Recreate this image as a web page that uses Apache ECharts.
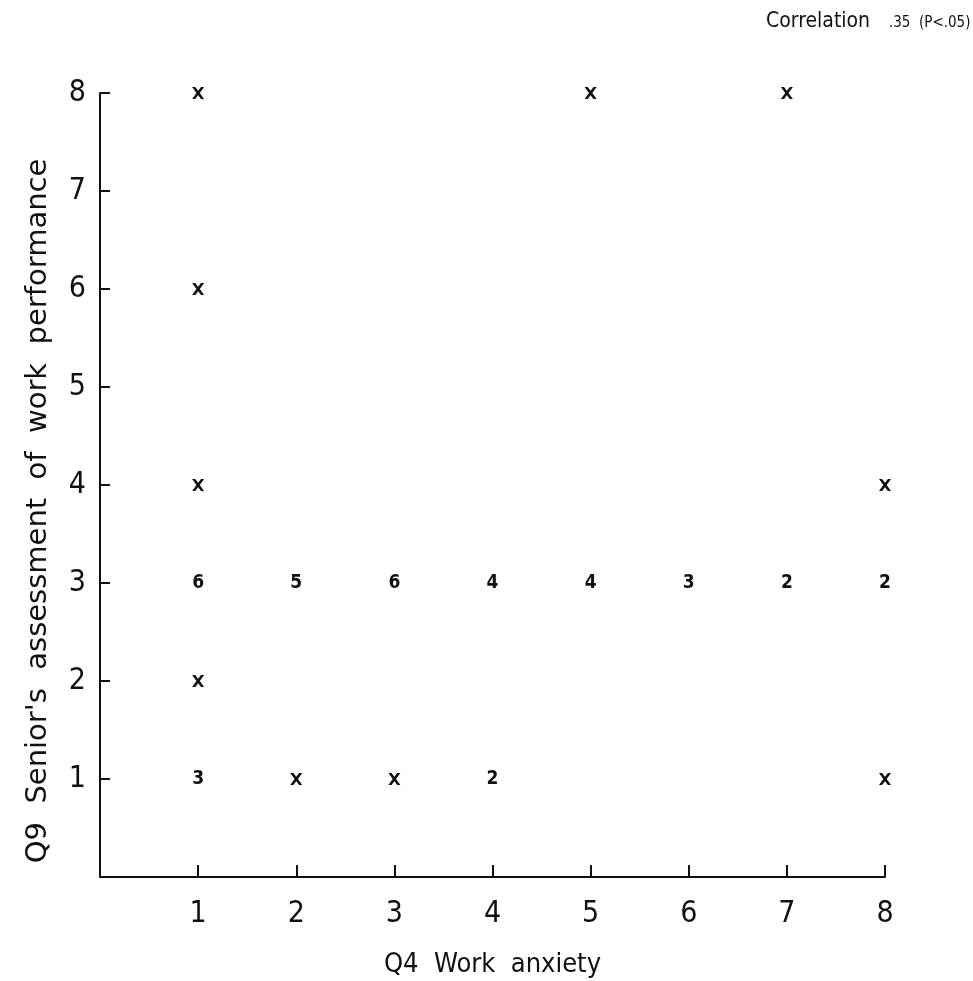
<!DOCTYPE html>
<html>
<head>
<meta charset="utf-8">
<script src="https://cdn.jsdelivr.net/npm/echarts@6/dist/echarts.min.js"></script>
<style>
  html, body { margin: 0; padding: 0; background: #fff; }
  #chart { width: 973px; height: 981px; }
</style>
</head>
<body>
<div id="chart"></div>
<script>
// single cases, drawn as crosses
var singleX = [1, 5, 7, 1, 1, 8, 1, 2, 3, 8];
var singleY = [8, 8, 8, 6, 4, 4, 2, 1, 1, 1];
// several cases at one point, drawn as their count
var countX = [1, 2, 3, 4, 5, 6, 7, 8, 1, 4];
var countY = [3, 3, 3, 3, 3, 3, 3, 3, 1, 1];
var countN = [6, 5, 6, 4, 4, 3, 2, 2, 3, 2];
var tickLabels = ['', '1', '2', '3', '4', '5', '6', '7', '8'];

var FONT = '"DejaVu Sans Condensed", "DejaVu Sans", sans-serif';
var INK = '#111';

var crossPath = 'path://M0,0 L2.6,0 L5,3.2 L7.4,0 L10,0 L6.4,5 L10,10 L7.4,10 L5,6.8 L2.6,10 L0,10 L3.6,5 Z';

var chart = echarts.init(document.getElementById('chart'));

var option = {
  backgroundColor: '#fff',
  animation: false,
  title: [
    {
      text: 'Correlation',
      left: 761, top: 6,
      textStyle: { fontFamily: FONT, fontSize: 21, fontWeight: 'normal', color: INK }
    },
    {
      text: '.35  (P<.05)',
      left: 884, top: 11,
      textStyle: { fontFamily: FONT, fontSize: 15, fontWeight: 'normal', color: INK }
    }
  ],
  // y axis title sits a little below the plot centre in the original
  graphic: [{
    type: 'text',
    x: 38, y: 511,
    rotation: Math.PI / 2,
    style: {
      text: "Q9  Senior's  assessment  of  work  performance",
      font: '29px "DejaVu Sans", sans-serif',
      fill: INK,
      align: 'center',
      verticalAlign: 'middle'
    }
  }],
  grid: { left: 100, right: 88, top: 93, bottom: 104, outerBoundsMode: 'none' },
  xAxis: {
    type: 'value',
    min: 0, max: 8, interval: 1,
    name: 'Q4  Work  anxiety',
    nameLocation: 'middle',
    nameGap: 74,
    nameTextStyle: { fontFamily: FONT, fontSize: 27, color: INK },
    axisLine: { lineStyle: { color: INK, width: 2 } },
    axisTick: { inside: true, length: 12, lineStyle: { color: INK, width: 2 } },
    axisLabel: {
      margin: 22, fontFamily: FONT, fontSize: 30, color: INK,
      formatter: function (v) { return tickLabels[v]; }
    },
    splitLine: { show: false }
  },
  yAxis: {
    type: 'value',
    min: 0, max: 8, interval: 1,
    axisLine: { lineStyle: { color: INK, width: 2 } },
    axisTick: { inside: true, length: 10, lineStyle: { color: INK, width: 2 } },
    axisLabel: {
      margin: 14, fontFamily: FONT, fontSize: 30, color: INK,
      formatter: function (v) { return tickLabels[v]; }
    },
    splitLine: { show: false }
  },
  series: [
    {
      name: 'single',
      type: 'scatter',
      symbol: crossPath,
      symbolSize: 12,
      itemStyle: { color: INK, opacity: 1 },
      data: singleX.map(function (x, i) { return [x, singleY[i]]; })
    },
    {
      name: 'count',
      type: 'scatter',
      symbolSize: 1,
      itemStyle: { color: 'rgba(0,0,0,0)', opacity: 1 },
      label: {
        show: true,
        position: 'inside',
        fontFamily: FONT,
        fontSize: 19,
        fontWeight: 'bold',
        color: INK,
        opacity: 1,
        formatter: function (p) { return p.value[2]; }
      },
      data: countX.map(function (x, i) { return [x, countY[i], countN[i]]; })
    }
  ]
};

chart.setOption(option);
</script>
</body>
</html>
